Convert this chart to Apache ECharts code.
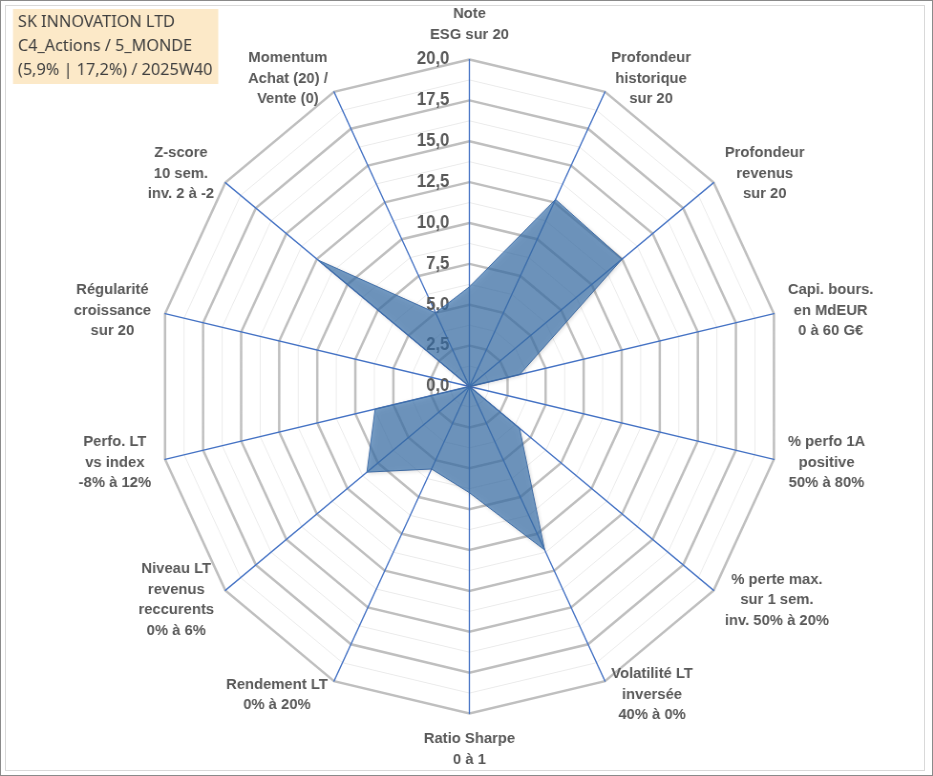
<!DOCTYPE html>
<html>
<head>
<meta charset="utf-8">
<title>SK INNOVATION LTD</title>
<script src="https://cdn.jsdelivr.net/npm/echarts@6/dist/echarts.min.js"></script>
<style>
body{margin:0;background:#fff;overflow:hidden;}
/* le radar Excel est un peu plus étroit que haut : on compresse la largeur */
#main{position:absolute;left:0;top:0;width:977px;height:776px;transform:scaleX(0.955);transform-origin:0 0;}
#frame{position:absolute;left:0;top:0;width:931px;height:774px;border:1px solid #8a8a8a;pointer-events:none;}
#inner{position:absolute;left:5px;top:5px;width:918px;height:764px;border:1px solid #d9d9d9;pointer-events:none;}
</style>
</head>
<body>
<div id="main"></div>
<div id="frame"></div>
<div id="inner"></div>
<script>
// axes dans l'ordre horaire, en partant du haut
var axisNames = [
	'Note\nESG sur 20',
	'Profondeur\nhistorique\nsur 20',
	'Profondeur\nrevenus\nsur 20',
	'Capi. bours.\nen MdEUR\n0 à 60 G€',
	'% perfo 1A\npositive\n50% à 80%',
	'% perte max.\nsur 1 sem.\ninv. 50% à 20%',
	'Volatilité LT\ninversée\n40% à 0%',
	'Ratio Sharpe\n0 à 1',
	'Rendement LT\n0% à 20%',
	'Niveau LT\nrevenus\nreccurents\n0% à 6%',
	'Perfo. LT\nvs index\n-8% à 12%',
	'Régularité\ncroissance\nsur 20',
	'Z-score\n10 sem.\ninv. 2 à -2',
	'Momentum\nAchat (20) /\nVente (0)'
];
var scores = [6.1, 12.7, 12.5, 3.3, 0, 4.1, 11.1, 6.5, 5.6, 8.4, 6.2, 0, 12.4, 5.0];
var scaleMin = 0;
var scaleMax = 20;
var majorSplits = 8;   // pas de 2,5
var titleLines = ['SK INNOVATION LTD', 'C4_Actions / 5_MONDE', '(5,9% | 17,2%) / 2025W40'];

// echarts tourne dans le sens inverse : on garde le premier puis on inverse le reste
var order = [0];
for (var i = axisNames.length - 1; i > 0; i--) order.push(i);

var textColor = '#595959';
var font = '"Liberation Sans", Arial, sans-serif';

function indicators(withLabel){
	return order.map(function(idx, k){
		var ind = {name: axisNames[idx], min: scaleMin, max: scaleMax};
		if (withLabel && k === 0) {
			ind.axisLabel = {
				show: true,
				color: textColor,
				fontFamily: font,
				fontWeight: 'bold',
				fontSize: 17.5,
				margin: 21,
				formatter: function(v){ return v.toFixed(1).replace('.', ','); }
			};
		}
		return ind;
	});
}

var center = [491.6, 386.5];
var radius = 327;

var myChart = echarts.init(document.getElementById('main'));
var option = {
	animation: false,
	title: {
		text: titleLines.join('\n'),
		left: 13.6,
		top: 9,
		padding: [1, 6, 2, 5.2],
		backgroundColor: '#fce9c8',
		textStyle: {
			fontFamily: '"Noto Sans", sans-serif',
			fontWeight: 'normal',
			fontSize: 17,
			lineHeight: 24,
			color: '#404040'
		}
	},
	radar: [{
		// grille secondaire (1,25)
		center: center,
		radius: radius,
		shape: 'polygon',
		splitNumber: majorSplits * 2,
		indicator: indicators(false),
		axisName: {show: false},
		axisLine: {show: false},
		axisTick: {show: false},
		axisLabel: {show: false},
		splitArea: {show: false},
		splitLine: {lineStyle: {color: '#ebebeb', width: 1}}
	}, {
		center: center,
		radius: radius,
		shape: 'polygon',
		splitNumber: majorSplits,
		indicator: indicators(true),
		nameGap: 15,
		axisName: {
			formatter: function(name){
				return name.split('\n').map(function(l){ return '{a|' + l + '}'; }).join('\n');
			},
			rich: {
				a: {
					align: 'center',
					color: textColor,
					fontFamily: font,
					fontWeight: 'bold',
					fontSize: 15.5,
					lineHeight: 20.5
				}
			}
		},
		axisLine: {lineStyle: {color: '#4472c4', width: 1.3}},
		axisTick: {show: false},
		axisLabel: {show: false},
		splitArea: {show: false},
		splitLine: {lineStyle: {color: '#bfbfbf', width: 2.5}}
	}],
	series: [{
		type: 'radar',
		radarIndex: 1,
		symbol: 'none',
		lineStyle: {color: '#4a74b0', width: 1},
		areaStyle: {
			color: '#3b73ae',
			opacity: 0.68,
			shadowBlur: 4,
			shadowColor: 'rgba(0,0,0,0.25)',
			shadowOffsetX: 1,
			shadowOffsetY: 1
		},
		data: [{value: order.map(function(idx){ return scores[idx]; })}]
	}]
};
myChart.setOption(option);
</script>
</body>
</html>
